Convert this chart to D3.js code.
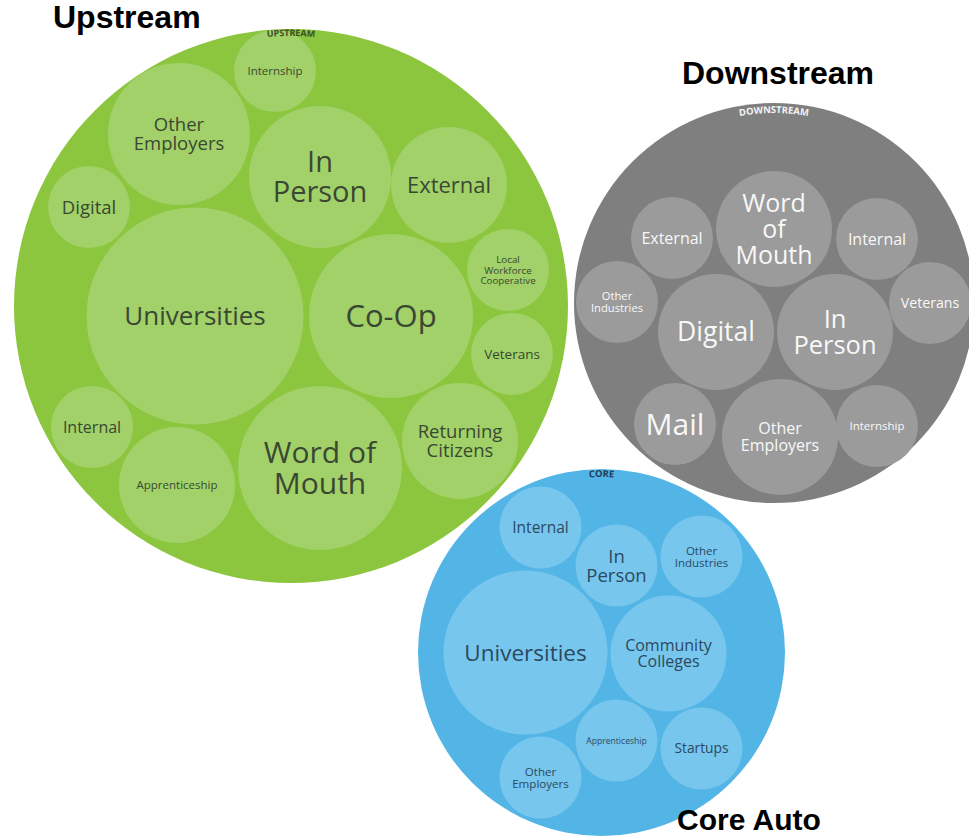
<!DOCTYPE html>
<html><head><meta charset="utf-8">
<script src="https://cdn.jsdelivr.net/npm/d3@7"></script>
<style>body{margin:0;background:#fff;} svg{display:block;}</style>
</head><body>
<svg id="chart" width="969" height="836"></svg>
<script>
// ---------- DATA ----------
const groupTitles = ["Upstream", "Downstream", "Core Auto"];
const groupTags = ["UPSTREAM", "DOWNSTREAM", "CORE"];

const upstreamCategories = ["Internship","Other Employers","In Person","External","Digital","Universities","Co-Op","Local Workforce Cooperative","Veterans","Returning Citizens","Word of Mouth","Internal","Apprenticeship"];
const upstreamValues = [1,3,3,2,1,7,4,1,1,2,4,1,2];

const downstreamCategories = ["Word of Mouth","External","Internal","Other Industries","Digital","In Person","Veterans","Mail","Other Employers","Internship"];
const downstreamValues = [2,1,1,1,2,2,1,1,2,1];

const coreCategories = ["Internal","In Person","Other Industries","Universities","Community Colleges","Apprenticeship","Startups","Other Employers"];
const coreValues = [1,1,1,4,2,1,1,1];

// ---------- LAYOUT (bubble arrangement, offsets from group centre) ----------
const upstreamOffsets = [[-16,-235],[-112,-172],[29,-129],[158,-121],[-202,-99],[-96,10],[100,10],[217,-36],[221,48],[169,135],[29,162],[-199,121],[-114,179]];
const downstreamOffsets = [[0,-74],[-102,-65],[103,-64],[-157,-1],[-58,29],[61,29],[156,0],[-99,121],[6,134],[103,123]];
const coreOffsets = [[-61,-125],[15,-87],[100,-96],[-76,0],[67,1],[15,88],[100,96],[-61,125]];

// ---------- STYLES (label lines and font sizes) ----------
const upstreamLabelStyle = [
  ["Internship",11.5],["Other|Employers",18.5],["In|Person",29],["External",22],["Digital",18.5],
  ["Universities",26],["Co-Op",31],["Local|Workforce|Cooperative",9.8],["Veterans",13.5],
  ["Returning|Citizens",18.5],["Word of|Mouth",30],["Internal",16],["Apprenticeship",11.5]];
const downstreamLabelStyle = [
  ["Word|of|Mouth",25],["External",16],["Internal",16],["Other|Industries",11.2],["Digital",26.5],
  ["In|Person",25.5],["Veterans",14.2],["Mail",30],["Other|Employers",16],["Internship",11.5]];
const coreLabelStyle = [
  ["Internal",15.5],["In|Person",18.5],["Other|Industries",11.5],["Universities",22.5],
  ["Community|Colleges",16],["Apprenticeship",8.6],["Startups",13.8],["Other|Employers",11.6]];

const groupsLayout = [
  {cx:291, cy:306, r:277, fill:"#8cc63f", inner:"#a1d168", text:"#3a4833", tag:"#3b4f2b", tagInset:7, tagSize:9,
   cats:upstreamCategories, vals:upstreamValues, offs:upstreamOffsets, styles:upstreamLabelStyle,
   title:{x:53, y:28, size:32}},
  {cx:774, cy:303, r:200, fill:"#7f7f7f", inner:"#9b9b9b", text:"#f8f8f8", tag:"#f4f4f4", tagInset:10, tagSize:9.5,
   cats:downstreamCategories, vals:downstreamValues, offs:downstreamOffsets, styles:downstreamLabelStyle,
   title:{x:682, y:84, size:32}},
  {cx:601.5, cy:652.5, r:183.5, fill:"#53b5e6", inner:"#77c6ee", text:"#2b4a60", tag:"#1f3d57", tagInset:8, tagSize:9.5,
   cats:coreCategories, vals:coreValues, offs:coreOffsets, styles:coreLabelStyle,
   title:{x:677, y:830, size:30}}
];

// ---------- DRAW ----------
const svg = d3.select("#chart");
const rScale = d3.scaleSqrt().domain([0, 1]).range([0, 41]);
const CAP = 0.714;
const FONT = "'Open Sans', 'Noto Sans', sans-serif";

groupsLayout.forEach((G, gi) => {
  const g = svg.append("g").attr("transform", `translate(${G.cx},${G.cy})`);
  g.append("circle").attr("r", G.r).attr("fill", G.fill);

  const nodes = G.cats.map((c, i) => ({
    name: c, value: G.vals[i], dx: G.offs[i][0], dy: G.offs[i][1],
    lines: G.styles[i][0].split("|"), fs: G.styles[i][1]
  }));

  const bub = g.selectAll("g.bubble").data(nodes).join("g")
    .attr("class", "bubble")
    .attr("transform", d => `translate(${d.dx},${d.dy})`);
  bub.append("circle").attr("r", d => rScale(d.value)).attr("fill", G.inner);

  bub.append("text")
    .attr("font-family", FONT).attr("fill", G.text)
    .attr("font-size", d => d.fs).attr("text-anchor", "middle")
    .each(function(d) {
      const n = d.lines.length, lh = d.fs * 1.03;
      d3.select(this).selectAll("tspan").data(d.lines).join("tspan")
        .attr("x", 0)
        .attr("y", (t, i) => (i - (n - 1) / 2) * lh + d.fs * CAP / 2)
        .text(t => t);
    });

  // small curved group tag, drawn on top
  const R = G.r - G.tagInset;
  const pid = "tagpath" + gi;
  g.append("path").attr("id", pid).attr("fill", "none")
    .attr("d", `M ${-R},0 A ${R},${R} 0 0 1 ${R},0`);
  g.append("text")
    .attr("font-family", FONT).attr("font-weight", 700)
    .attr("font-size", G.tagSize).attr("fill", G.tag)
    .append("textPath").attr("href", "#" + pid)
    .attr("startOffset", "50%").attr("text-anchor", "middle")
    .text(groupTags[gi]);

  svg.append("text")
    .attr("x", G.title.x).attr("y", G.title.y)
    .attr("font-family", "'Liberation Sans', Arial, Helvetica, sans-serif")
    .attr("font-weight", 700).attr("font-size", G.title.size).attr("fill", "#000")
    .text(groupTitles[gi]);
});
</script>
</body></html>
